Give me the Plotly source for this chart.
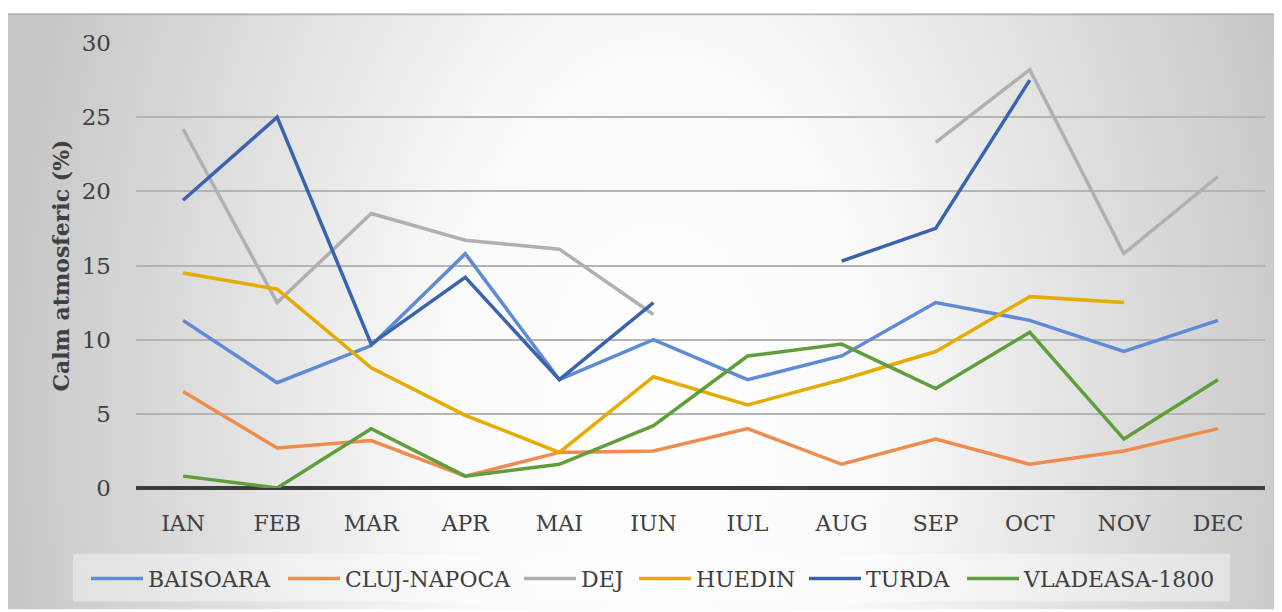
import base64
import plotly.graph_objects as go

months = ["IAN", "FEB", "MAR", "APR", "MAI", "IUN", "IUL", "AUG", "SEP", "OCT", "NOV", "DEC"]

baisoara = [11.3, 7.1, 9.6, 15.8, 7.3, 10.0, 7.3, 8.9, 12.5, 11.3, 9.2, 11.3]
cluj_napoca = [6.5, 2.7, 3.2, 0.8, 2.4, 2.5, 4.0, 1.6, 3.3, 1.6, 2.5, 4.0]
dej = [24.2, 12.5, 18.5, 16.7, 16.1, 11.7, None, None, 23.3, 28.2, 15.8, 21.0]
huedin = [14.5, 13.4, 8.1, 4.9, 2.4, 7.5, 5.6, 7.3, 9.2, 12.9, 12.5, None]
turda = [19.4, 25.0, 9.7, 14.2, 7.3, 12.5, None, 15.3, 17.5, 27.5, None, None]
vladeasa = [0.8, 0.0, 4.0, 0.8, 1.6, 4.2, 8.9, 9.7, 6.7, 10.5, 3.3, 7.3]

series_names = ["BAISOARA", "CLUJ-NAPOCA", "DEJ", "HUEDIN", "TURDA", "VLADEASA-1800"]
series_values = [baisoara, cluj_napoca, dej, huedin, turda, vladeasa]
series_colors = ["#5f8ad6", "#f08b4f", "#b0b0b0", "#e6ab00", "#3a63ae", "#5f9e3a"]

y_ticks = [0, 5, 10, 15, 20, 25, 30]

# figure geometry (page has an 8px body margin)
W, H = 1274, 604
L, R, T, B = 128, 17, 35, 122
pw, ph = W - L - R, H - T - B


def px_x(fx):
    return (fx - L) / pw


def px_y(fy):
    return (H - B - fy) / ph


# radial gradient background (chart area) as SVG image
bg_top = 5
bg_w, bg_h = W, H - bg_top
svg = f'''<svg xmlns="http://www.w3.org/2000/svg" width="{bg_w}" height="{bg_h}" viewBox="0 0 {bg_w} {bg_h}" preserveAspectRatio="none">
<defs><radialGradient id="g" gradientUnits="userSpaceOnUse" cx="0" cy="0" r="1" gradientTransform="translate(652 407) scale(660 1100)">
<stop offset="0" stop-color="#ffffff"/><stop offset="0.33" stop-color="#fafafa"/><stop offset="1" stop-color="#c6c6c6"/>
</radialGradient></defs>
<rect x="0" y="0" width="{bg_w}" height="{bg_h}" fill="url(#g)"/>
<line x1="0" y1="1" x2="{bg_w}" y2="1" stroke="#b5b5b5" stroke-width="2"/>
</svg>'''
src = "data:image/svg+xml;base64," + base64.b64encode(svg.encode()).decode()

font_family = "DejaVu Serif"

# legend entry start positions (figure px)
legend_x = [78, 275, 511, 626, 796, 954]
legend_top = 552

fig = go.Figure()
legend_layouts = {}
for i, (name, vals, col) in enumerate(zip(series_names, series_values, series_colors)):
    key = "legend" if i == 0 else f"legend{i + 1}"
    fig.add_trace(go.Scatter(x=months, y=vals, name=name, mode="lines",
                             line=dict(color=col, width=3.5), connectgaps=False,
                             legend=key))
    legend_layouts[key] = dict(orientation="h", x=px_x(legend_x[i]), y=px_y(legend_top),
                               xanchor="left", yanchor="top",
                               bgcolor="rgba(0,0,0,0)", borderwidth=0,
                               font=dict(size=22, color="#404040", family=font_family),
                               itemwidth=52)

fig.update_layout(
    width=W, height=H,
    margin=dict(l=L, r=R, t=T, b=B, pad=0),
    paper_bgcolor="white",
    plot_bgcolor="rgba(0,0,0,0)",
    font=dict(family=font_family, color="#404040", size=22),
    images=[dict(source=src, xref="paper", yref="paper",
                 x=px_x(0), y=px_y(bg_top),
                 sizex=bg_w / pw, sizey=bg_h / ph,
                 xanchor="left", yanchor="top", sizing="stretch", layer="below")],
    shapes=[dict(type="rect", xref="paper", yref="paper",
                 x0=px_x(65), x1=px_x(1222), y0=px_y(596), y1=px_y(548),
                 fillcolor="rgba(255,255,255,0.4)", line=dict(width=0), layer="below")],
    xaxis=dict(type="category", range=[-0.5, 11.5], showgrid=False, zeroline=False,
               showline=False, ticks="", tickfont=dict(size=22, color="#404040"),
               ticklabelstandoff=20, fixedrange=True),
    yaxis=dict(range=[0, 30], tickvals=y_ticks, showgrid=True, gridcolor="#b4b4b4",
               gridwidth=1.5, zeroline=True, zerolinecolor="#3c3c3c", zerolinewidth=4,
               showline=False, ticks="", tickfont=dict(size=23, color="#404040"),
               ticklabelstandoff=24,
               title=dict(text="<b>Calm atmosferic (%)</b>", font=dict(size=22, color="#404040"),
                          standoff=6),
               automargin=False, fixedrange=True),
    showlegend=True,
    **legend_layouts,
)

fig.write_html("out.html")
